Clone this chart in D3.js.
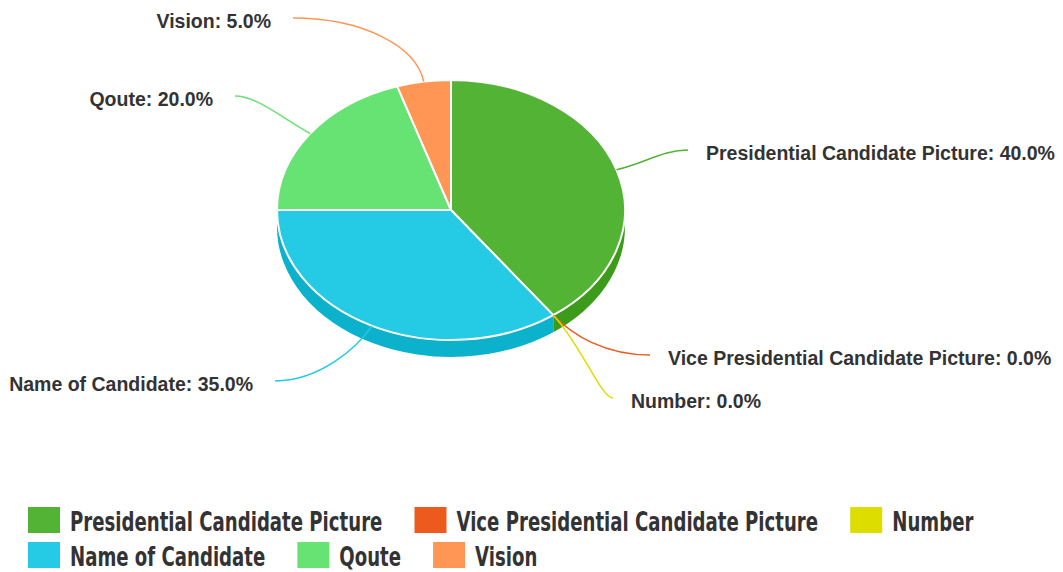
<!DOCTYPE html>
<html>
<head>
<meta charset="utf-8">
<script src="https://cdn.jsdelivr.net/npm/d3@7"></script>
<style>
  html, body { margin: 0; padding: 0; background: #fff; }
  svg { display: block; }
  .slice-label { font-family: "Liberation Sans", Arial, sans-serif; font-weight: bold; font-size: 19.5px; fill: #333; }
  .legend-label { font-family: "DejaVu Sans Condensed", "DejaVu Sans", sans-serif; font-weight: bold; font-size: 26px; fill: #333; }
</style>
</head>
<body>
<svg id="chart" width="1063" height="572"></svg>
<script>
// Share of each element (percent)
const categories = [
  "Presidential Candidate Picture",
  "Vice Presidential Candidate Picture",
  "Number",
  "Name of Candidate",
  "Qoute",
  "Vision"
];
const shares = [40, 0, 0, 35, 20, 5];

// Face colours and the darker shade used for the pie's rim
const faceColors = ["#52b335", "#ec5a1e", "#dddd00", "#25cbe4", "#66e372", "#ff9655"];
const rimColors  = ["#3d9b1c", "#c9461a", "#b8b800", "#0cb1cc", "#4cc85a", "#e57a3c"];

// Leader-line layout: end point of each leader and its bezier handle lengths
const leaderLayout = [
  { end: [688, 150], h1: 30, h2: 25 },
  { end: [650, 355], h1: 28, h2: 45 },
  { end: [613, 398], h1: 38, h2: 12 },
  { end: [275, 381], h1: 26, h2: 45 },
  { end: [235,  96], h1: 30, h2: 22 },
  { end: [293,  18], h1: 36, h2: 70 }
];

const svg = d3.select("#chart");
const cx = 451, cy = 210, rx = 174, ry = 130, depth = 17;

const pie = d3.pie().sort(null).value(d => d.value);
const data = categories.map((name, i) => ({ name, value: shares[i], i }));
const arcs = pie(data);

const pt = (a, dy = 0) => [cx + rx * Math.sin(a), cy - ry * Math.cos(a) + dy];

// Rim (visible lower half of the cylinder)
const rim = svg.append("g");
arcs.forEach(d => {
  const s = Math.max(d.startAngle, Math.PI / 2);
  const e = Math.min(d.endAngle, Math.PI * 3 / 2);
  if (e <= s) return;
  const p0 = pt(s), p1 = pt(e), q1 = pt(e, depth), q0 = pt(s, depth);
  const path = `M${p0}A${rx},${ry} 0 0 1 ${p1}L${q1}A${rx},${ry} 0 0 0 ${q0}Z`;
  rim.append("path").attr("d", path).attr("fill", rimColors[d.data.i]);
});

// Top face: circular arcs squashed into an ellipse
const arcGen = d3.arc().innerRadius(0).outerRadius(rx);
svg.append("g")
  .attr("transform", `translate(${cx},${cy}) scale(1,${ry / rx})`)
  .selectAll("path")
  .data(arcs.filter(d => d.data.value > 0))
  .join("path")
  .attr("d", arcGen)
  .attr("fill", d => faceColors[d.data.i])
  .attr("stroke", "#fff")
  .attr("stroke-width", 2)
  .attr("stroke-linejoin", "round")
  .attr("vector-effect", "non-scaling-stroke");

// Leader lines and labels
const leaders = svg.append("g");
arcs.forEach(d => {
  const lay = leaderLayout[d.data.i];
  const mid = (d.startAngle + d.endAngle) / 2;
  const start = pt(mid);
  const vx = start[0] - cx, vy = start[1] - cy;
  const len = Math.hypot(vx, vy);
  const ux = vx / len, uy = vy / len;
  const end = lay.end;
  const right = end[0] > cx;
  const c1 = [start[0] + ux * lay.h1, start[1] + uy * lay.h1];
  const c2 = [end[0] + (right ? -lay.h2 : lay.h2), end[1]];
  const p = d3.path();
  p.moveTo(start[0], start[1]);
  p.bezierCurveTo(c1[0], c1[1], c2[0], c2[1], end[0], end[1]);
  leaders.append("path")
    .attr("d", p.toString())
    .attr("fill", "none")
    .attr("stroke", faceColors[d.data.i])
    .attr("stroke-width", 1.5);
  leaders.append("text")
    .attr("class", "slice-label")
    .attr("x", right ? end[0] + 18 : end[0] - 22)
    .attr("y", end[1] + 10)
    .attr("text-anchor", right ? "start" : "end")
    .text(`${d.data.name}: ${d.data.value.toFixed(1)}%`);
});

// Legend: flowing rows of swatch + name, lettering narrowed to a condensed face
const legend = svg.append("g");
const legX0 = 28, legY0 = 507, rowH = 35, swW = 32, swH = 26, gap = 10, itemGap = 32, maxX = 1050;
const narrow = 0.775;
let x = legX0, y = legY0;
data.forEach(d => {
  const g = legend.append("g");
  const t = g.append("text")
    .attr("class", "legend-label")
    .text(d.name);
  const w = t.node().getComputedTextLength() * narrow;
  if (x > legX0 && x + swW + gap + w > maxX) { x = legX0; y += rowH; }
  g.attr("transform", `translate(${x},${y})`);
  g.insert("rect", "text")
    .attr("width", swW).attr("height", swH)
    .attr("fill", faceColors[d.i]);
  t.attr("transform", `translate(${swW + gap},24) scale(${narrow},1)`);
  x += swW + gap + w + itemGap;
});
</script>
</body>
</html>
